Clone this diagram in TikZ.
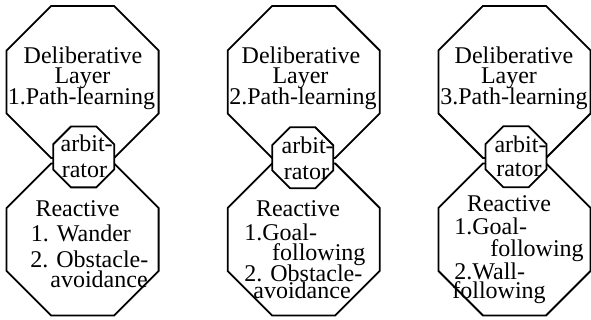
\documentclass[tikz,border=0pt]{standalone}
\usepackage{fontspec}
\setmainfont{Liberation Serif}
\usetikzlibrary{shapes.geometric}
\begin{document}
\begin{tikzpicture}[x=0.5pt,y=-0.5pt,
  octa/.style={regular polygon, regular polygon sides=8, draw, line width=0.9pt,
    inner sep=0pt, outer sep=0pt, minimum size=82.3pt},
  arb/.style={octa, fill=white, minimum size=33pt},
  txt/.style={anchor=base, inner sep=0pt, font=\fontsize{12}{14}\selectfont},
  ltxt/.style={txt, anchor=base west}]
\useasboundingbox (0,0) rectangle (591,320);

% layer octagons
\node[octa] (top1) at (82.6,82) {};
\node[octa] (bot1) at (82.6,239.5) {};
\node[octa] (top2) at (303.7,82) {};
\node[octa] (bot2) at (303.7,239.5) {};
\node[octa] (top3) at (514.5,82) {};
\node[octa] (bot3) at (514.5,239.5) {};

% arbitrators sit over the joint of the two layers
\node[arb] (arb1) at (83.7,156.9) {};
\node[arb] (arb2) at (302.7,157.8) {};
\node[arb] (arb3) at (516,156.8) {};

% first architecture
\node[txt] (t1a) at (83,64) {Deliberative};
\node[txt] (t1b) at (82.5,84) {Layer};
\node[txt] (t1c) at (81.5,105) {1.Path-learning};
\node[txt] (a1a) at (86.7,152) {arbit-};
\node[txt] (a1b) at (84.5,178) {rator};
\node[txt] (r1a) at (77.5,216.7) {Reactive};
\node[ltxt] (r1b) at (30.5,242) {1. Wander};
\node[ltxt] (r1c) at (30,268) {2. Obstacle-};
\node[ltxt] (r1d) at (50,288) {avoidance};

% second architecture
\node[txt] (t2a) at (301,63.5) {Deliberative};
\node[txt] (t2b) at (300.5,84) {Layer};
\node[txt] (t2c) at (303,105) {2.Path-learning};
\node[txt] (a2a) at (307.7,153.3) {arbit-};
\node[txt] (a2b) at (306.5,180) {rator};
\node[txt] (r2a) at (298,216.7) {Reactive};
\node[ltxt] (r2b) at (244,240.7) {1.Goal-};
\node[ltxt] (r2c) at (271.7,260.7) {following};
\node[ltxt] (r2d) at (244,281.7) {2. Obstacle-};
\node[ltxt] (r2e) at (253,298.3) {avoidance};

% third architecture
\node[txt] (t3a) at (514,63.5) {Deliberative};
\node[txt] (t3b) at (509,83.5) {Layer};
\node[txt] (t3c) at (514,105) {3.Path-learning};
\node[txt] (a3a) at (520.5,152.7) {arbit-};
\node[txt] (a3b) at (519,176.7) {rator};
\node[txt] (r3a) at (509,211.7) {Reactive};
\node[ltxt] (r3b) at (454,235) {1.Goal-};
\node[ltxt] (r3c) at (490,256.7) {following};
\node[ltxt] (r3d) at (454,280) {2.Wall-};
\node[ltxt] (r3e) at (452,298.3) {following};
\end{tikzpicture}
\end{document}
